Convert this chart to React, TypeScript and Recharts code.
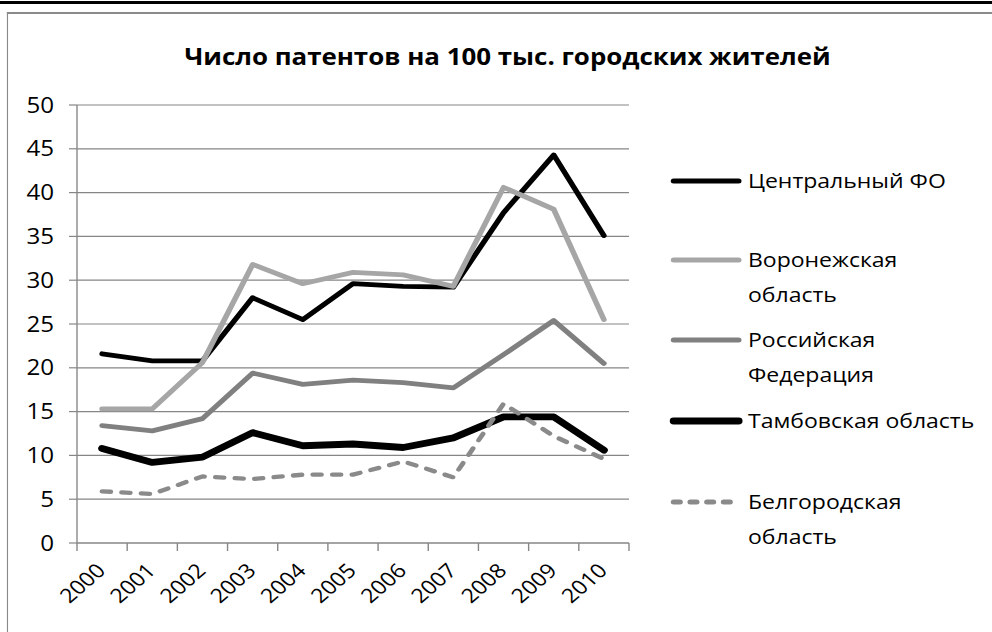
import { LineChart, Line, XAxis, YAxis, CartesianGrid } from 'recharts'

const years = ['2000', '2001', '2002', '2003', '2004', '2005', '2006', '2007', '2008', '2009', '2010']
const centralFO = [21.6, 20.8, 20.8, 28.0, 25.5, 29.6, 29.3, 29.2, 37.7, 44.3, 35.1]
const voronezh = [15.3, 15.3, 20.6, 31.8, 29.6, 30.9, 30.6, 29.3, 40.6, 38.1, 25.5]
const russia = [13.4, 12.8, 14.2, 19.4, 18.1, 18.6, 18.3, 17.7, 21.5, 25.4, 20.5]
const tambov = [10.8, 9.2, 9.8, 12.6, 11.1, 11.3, 10.9, 12.0, 14.4, 14.4, 10.6]
const belgorod = [5.9, 5.6, 7.6, 7.3, 7.8, 7.8, 9.3, 7.5, 15.9, 12.2, 9.6]
const yTicks = [0, 5, 10, 15, 20, 25, 30, 35, 40, 45, 50]

const title = 'Число патентов на 100 тыс. городских жителей'

const series = [
  { key: 'central', name: ['Центральный ФО'], color: '#000000', width: 4.8, dash: undefined, legendY: 181 },
  { key: 'voronezh', name: ['Воронежская', 'область'], color: '#a6a6a6', width: 4.8, dash: undefined, legendY: 260 },
  { key: 'russia', name: ['Российская', 'Федерация'], color: '#808080', width: 4.8, dash: undefined, legendY: 340 },
  { key: 'tambov', name: ['Тамбовская область'], color: '#000000', width: 6.8, dash: undefined, legendY: 421 },
  { key: 'belgorod', name: ['Белгородская', 'область'], color: '#8a8a8a', width: 4.3, dash: '7.5 9.5', legendY: 502 },
]

const data = years.map((year, i) => ({
  year,
  central: centralFO[i],
  voronezh: voronezh[i],
  russia: russia[i],
  tambov: tambov[i],
  belgorod: belgorod[i],
}))

// the reference is stretched sideways, so lay out narrow and scale up
const S = 1.15
const W = 992 / S
const H = 632
const FONT = '"Open Sans", sans-serif'
const plotLeft = 77 / S
const plotRight = 629 / S
const band = (plotRight - plotLeft) / years.length
const GRID = '#868686'

function YearTick(props: any) {
  const { x, y, payload, index } = props
  return (
    <g>
      <line x1={x - band / 2} x2={x - band / 2} y1={y} y2={y + 8} stroke={GRID} strokeWidth={1.2} />
      {index === years.length - 1 && (
        <line x1={x + band / 2} x2={x + band / 2} y1={y} y2={y + 8} stroke={GRID} strokeWidth={1.2} />
      )}
      <text
        x={x + 4}
        y={y + 29}
        textAnchor="end"
        transform={`rotate(-45, ${x + 4}, ${y + 29})`}
        fontSize={20}
        fontFamily={FONT}
        fill="#000"
      >
        {payload.value}
      </text>
    </g>
  )
}

function ValueTick(props: any) {
  const { y, payload } = props
  return (
    <text x={54 / S} y={y} dy="0.36em" textAnchor="end" fontSize={21} fontFamily={FONT} fill="#000">
      {payload.value}
    </text>
  )
}

export default function App() {
  return (
    <div
      style={{
        position: 'absolute',
        left: 0,
        top: 0,
        width: W,
        height: H,
        transform: `scaleX(${S})`,
        transformOrigin: '0 0',
        fontFamily: FONT,
        background: '#fff',
        overflow: 'hidden',
      }}
    >
      <div style={{ position: 'absolute', left: 0, top: 1, width: W, height: 2.5, background: '#000' }} />
      <div
        style={{
          position: 'absolute',
          left: 7 / S,
          top: 12,
          width: W,
          height: H,
          borderTop: '2px solid #8a8a8a',
          borderLeft: `${2 / S}px solid #8a8a8a`,
        }}
      />
      <div
        style={{
          position: 'absolute',
          left: 507.5 / S,
          top: 40,
          transform: 'translateX(-50%)',
          whiteSpace: 'nowrap',
          fontWeight: 'bold',
          fontSize: 22.5,
          lineHeight: '34px',
        }}
      >
        {title}
      </div>

      <div style={{ position: 'absolute', left: 0, top: 0 }}>
        <LineChart
          width={W}
          height={H}
          data={data}
          margin={{ top: 105, right: W - plotRight, left: 0, bottom: 0 }}
        >
          <CartesianGrid vertical={false} stroke={GRID} strokeWidth={1.2} />
          <XAxis
            dataKey="year"
            height={89}
            padding={{ left: band / 2, right: band / 2 }}
            axisLine={{ stroke: GRID, strokeWidth: 1.2 }}
            tickLine={false}
            tickSize={0}
            tickMargin={0}
            interval={0}
            tick={<YearTick />}
          />
          <YAxis
            width={plotLeft}
            domain={[0, 50]}
            ticks={yTicks}
            interval={0}
            axisLine={{ stroke: GRID, strokeWidth: 1.2 }}
            tickLine={{ stroke: GRID, strokeWidth: 1.2 }}
            tickSize={8 / S}
            tick={<ValueTick />}
          />
          {series.map((s) => (
            <Line
              key={s.key}
              type="linear"
              dataKey={s.key}
              name={s.name.join(' ')}
              stroke={s.color}
              strokeWidth={s.width}
              strokeDasharray={s.dash}
              strokeLinecap="round"
              strokeLinejoin="round"
              dot={false}
              activeDot={false}
              isAnimationActive={false}
            />
          ))}
        </LineChart>
      </div>

      {series.map((s) => (
        <div
          key={s.key}
          style={{ position: 'absolute', left: 668 / S, top: s.legendY - 18, display: 'flex', alignItems: 'flex-start' }}
        >
          <svg width={76 / S} height={36} style={{ flex: 'none' }}>
            <line
              x1={5.5 / S}
              x2={70.5 / S}
              y1={18}
              y2={18}
              stroke={s.color}
              strokeWidth={s.key === 'tambov' ? 6.8 : 5}
              strokeDasharray={s.dash ? '5.5 9' : undefined}
              strokeLinecap="round"
            />
          </svg>
          <div style={{ fontSize: 20, lineHeight: '35px', marginLeft: 4 / S, whiteSpace: 'nowrap' }}>
            {s.name.map((line) => (
              <div key={line}>{line}</div>
            ))}
          </div>
        </div>
      ))}
    </div>
  )
}
